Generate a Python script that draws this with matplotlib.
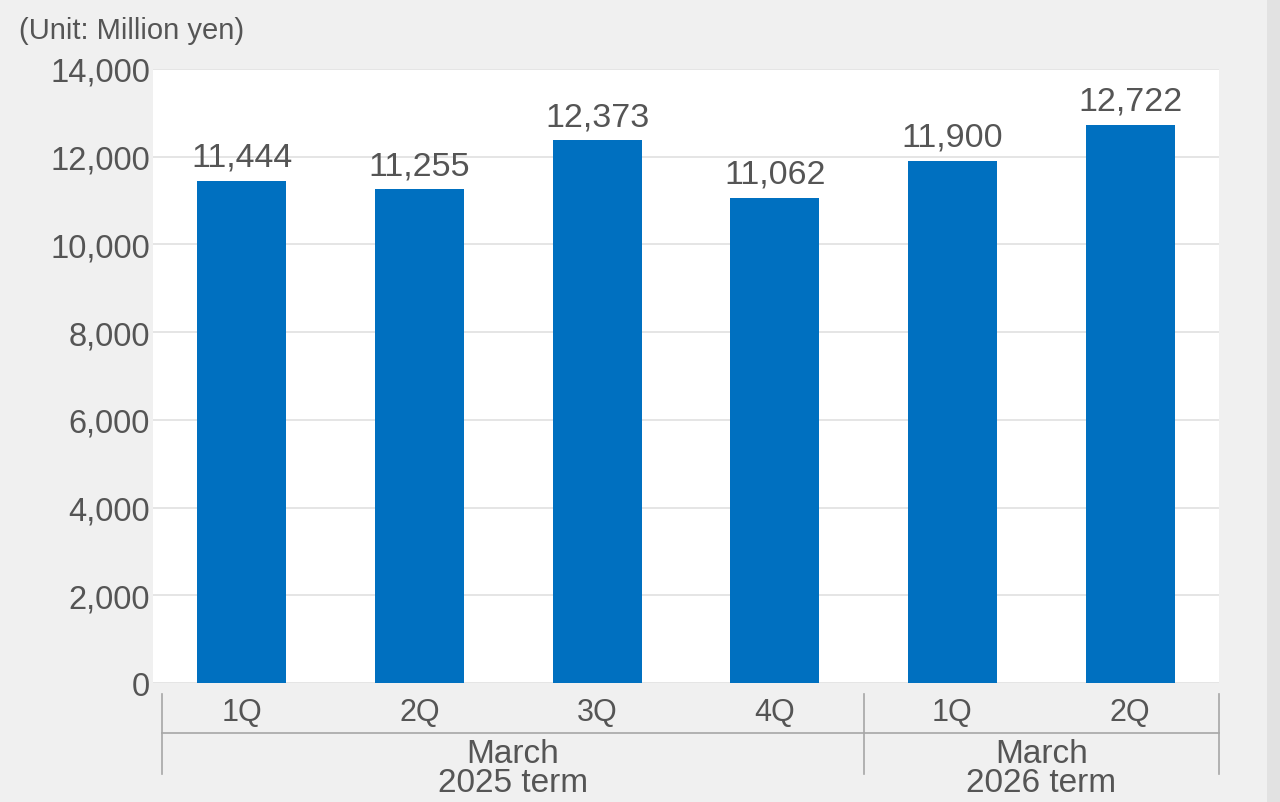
import matplotlib.pyplot as plt
from matplotlib.transforms import blended_transform_factory
from matplotlib.patches import Rectangle

# data
quarters = ["1Q", "2Q", "3Q", "4Q", "1Q", "2Q"]
sales = [11444, 11255, 12373, 11062, 11900, 12722]
groups = ["March\n2025 term", "March\n2026 term"]
group_edges = [-0.45, 3.5, 5.5]

plt.rcParams['font.family'] = ['Liberation Sans', 'DejaVu Sans']
grey_txt = "#555555"
bg = "#f0f0f0"

W, H = 1280, 803
fig = plt.figure(figsize=(W / 100, H / 100), dpi=100, facecolor=bg)
# darker strip at the right edge
fig.patches.append(Rectangle((1267 / W, 0), 13 / W, 1, transform=fig.transFigure,
                             facecolor="#e2e2e2", edgecolor="none", zorder=0))

ax = fig.add_axes([153 / W, (H - 684) / H, 1066 / W, 614 / H])
ax.set_facecolor("white")

x = range(len(sales))
ax.bar(x, sales, width=0.5, color="#0070C0", zorder=3)
for xi, v in zip(x, sales):
    ax.annotate(f"{v:,}", (xi, v), xytext=(0, 6), textcoords="offset points",
                ha="center", va="bottom", fontsize=24.5, color=grey_txt)

ax.set_xlim(-0.5, 5.5)
ax.set_ylim(0, 14000)
ax.set_yticks(range(0, 14001, 2000))
ax.set_yticklabels([f"{t:,}" for t in range(0, 14001, 2000)])
ax.tick_params(axis="y", length=0, pad=2, labelsize=23.5, labelcolor=grey_txt)
ax.set_xticks([])
ax.grid(axis="y", color="#e0e0e0", linewidth=1.2, zorder=0)
for s in ax.spines.values():
    s.set_visible(False)

# category axis below the plot, in pixel-ish units of figure height
tr = blended_transform_factory(ax.transData, fig.transFigure)
def fy(py):
    return (H - py) / H

for xi, q in zip(x, quarters):
    ax.text(xi, fy(713), q, transform=tr, ha="center", va="center",
            fontsize=22, color=grey_txt)

line_kw = dict(color="#a6a6a6", linewidth=1.2, transform=tr, clip_on=False)
ax.plot([group_edges[0], group_edges[-1]], [fy(734), fy(734)], **line_kw)
for e in group_edges:
    ax.plot([e, e], [fy(695), fy(775)], **line_kw)

for g, a, b in zip(groups, group_edges[:-1], group_edges[1:]):
    ax.text((a + b) / 2, fy(769), g, transform=tr, ha="center", va="center",
            fontsize=24, color=grey_txt, linespacing=0.95)

fig.text(19 / W, fy(31), "(Unit: Million yen)", ha="left", va="center",
         fontsize=21, color=grey_txt)

fig.savefig("out.png", dpi=100, facecolor=bg)
